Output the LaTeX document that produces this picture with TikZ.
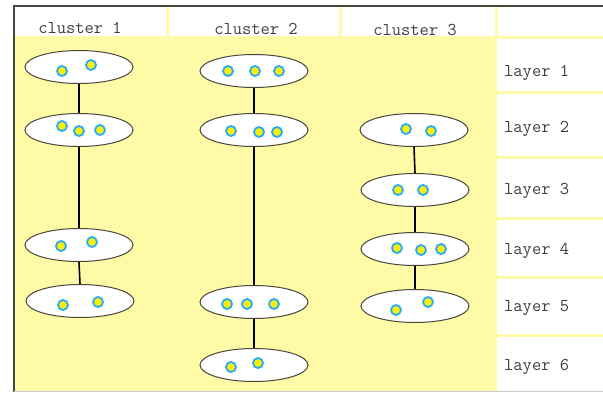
\documentclass[tikz,border=0pt]{standalone}
\usetikzlibrary{shapes.geometric}
\definecolor{bgyellow}{RGB}{255,250,165}
\definecolor{sepyellow}{RGB}{255,250,170}
\definecolor{dotblue}{RGB}{40,170,255}
\definecolor{dotyellow}{RGB}{250,240,0}
\definecolor{framegray}{RGB}{70,70,60}
\tikzset{
  oval/.style={ellipse, draw=framegray, line width=1pt, fill=white, minimum width=108pt, minimum height=33pt, inner sep=0pt},
  dot/.style={circle, draw=dotblue, line width=1.8pt, fill=dotyellow, minimum size=10pt, inner sep=0pt},
  link/.style={draw=black, line width=1.6pt},
  lbl/.style={font=\ttfamily\fontsize{18}{18}\selectfont, text=black!75, inner sep=0pt},
  sep/.style={draw=sepyellow, line width=3pt}
}
\begin{document}
\begin{tikzpicture}[x=1pt,y=-1pt]
\useasboundingbox (0,0) rectangle (603,392);
% backgrounds
\fill[white] (0,0) rectangle (603,392);
\fill[bgyellow] (14,37) rectangle (497,392);
% header separators
\draw[sep] (167,6) -- (167,37);
\draw[sep] (340,6) -- (340,37);
\draw[sep] (496,6) -- (496,37);
\draw[sep] (14,37.5) -- (603,37.5);
% right column separators
\foreach \yy in {92,157,218,277,335} \draw[sep] (497,\yy) -- (603,\yy);
% frame
\draw[framegray, line width=1.2pt] (14,392) -- (14,6) -- (603,6);
\draw[black!20, line width=0.8pt] (14,391.5) -- (603,391.5);
% headers
\node[lbl] (h1) at (80,28) {cluster 1};
\node[lbl] (h2) at (256,29) {cluster 2};
\node[lbl] (h3) at (415,30) {cluster 3};
% layer labels
\node[lbl, anchor=west] (l1) at (504,73) {layer 1};
\node[lbl, anchor=west] (l2) at (504,129) {layer 2};
\node[lbl, anchor=west] (l3) at (504,191) {layer 3};
\node[lbl, anchor=west] (l4) at (504,251) {layer 4};
\node[lbl, anchor=west] (l5) at (504,308) {layer 5};
\node[lbl, anchor=west] (l6) at (504,367) {layer 6};
% ellipses
\node[oval] (a1) at (79,67) {};
\node[oval] (a2) at (79,130) {};
\node[oval] (a4) at (79,245) {};
\node[oval] (a5) at (80,301) {};
\node[oval] (b1) at (254,71) {};
\node[oval] (b2) at (254,130) {};
\node[oval] (b5) at (254,302) {};
\node[oval] (b6) at (254,365) {};
\node[oval] (c2) at (414,130) {};
\node[oval] (c3) at (415,190) {};
\node[oval] (c4) at (415,249) {};
\node[oval] (c5) at (415,306) {};
% connectors
\draw[link] (a1.south) -- (a2.north);
\draw[link] (a2.south) -- (a4.north);
\draw[link] (a4.south) -- (a5.north);
\draw[link] (b1.south) -- (b2.north);
\draw[link] (b2.south) -- (b5.north);
\draw[link] (b5.south) -- (b6.north);
\draw[link] (c2.south) -- (c3.north);
\draw[link] (c3.south) -- (c4.north);
\draw[link] (c4.south) -- (c5.north);
% dots cluster 1
\node[dot] (a1p) at (62,71) {};
\node[dot] (a1q) at (91,65) {};
\node[dot] (a2p) at (62,126) {};
\node[dot] (a2q) at (79,131) {};
\node[dot] (a2r) at (100,130) {};
\node[dot] (a4p) at (61,246) {};
\node[dot] (a4q) at (92,242) {};
\node[dot] (a5p) at (63,305) {};
\node[dot] (a5q) at (98,302) {};
% dots cluster 2
\node[dot] (b1p) at (228,71) {};
\node[dot] (b1q) at (255,71) {};
\node[dot] (b1r) at (279,71) {};
\node[dot] (b2p) at (231,131) {};
\node[dot] (b2q) at (259,132) {};
\node[dot] (b2r) at (277,132) {};
\node[dot] (b5p) at (227,304) {};
\node[dot] (b5q) at (247,304) {};
\node[dot] (b5r) at (274,304) {};
\node[dot] (b6p) at (231,367) {};
\node[dot] (b6q) at (258,363) {};
% dots cluster 3
\node[dot] (c2p) at (406,129) {};
\node[dot] (c2q) at (431,131) {};
\node[dot] (c3p) at (398,190) {};
\node[dot] (c3q) at (423,190) {};
\node[dot] (c4p) at (397,248) {};
\node[dot] (c4q) at (421,250) {};
\node[dot] (c4r) at (441,249) {};
\node[dot] (c5p) at (396,310) {};
\node[dot] (c5q) at (428,302) {};
\end{tikzpicture}
\end{document}
